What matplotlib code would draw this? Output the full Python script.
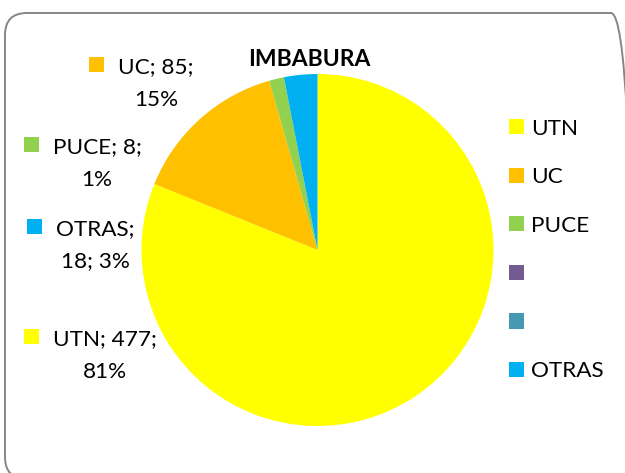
import matplotlib.pyplot as plt
from matplotlib.patches import FancyBboxPatch, Patch, Rectangle
from matplotlib.transforms import IdentityTransform

# pie data (two blank categories with no value still show up in the legend)
categories = ['UTN', 'UC', 'PUCE', '', '', 'OTRAS']
counts = [477, 85, 8, 0, 0, 18]
colors = ['#FFFF00', '#FFC000', '#92D050', '#735A91', '#4599B0', '#00B0F0']

# data labels as printed on the chart: name; value; percent
label_names = ['UTN', 'UC', 'PUCE', 'OTRAS']
label_values = [477, 85, 8, 18]
label_pcts = [81, 15, 1, 3]
label_colors = ['#FFFF00', '#FFC000', '#92D050', '#00B0F0']
first_line_parts = [2, 2, 2, 1]
# label anchors in pixels from top-left: centre x of the text, baseline of first line
label_pos = [(105, 345), (156, 73), (97, 153), (95, 235)]

W, H, DPI = 625, 473, 100
FS = 16.2  # pt
FS_PX = FS * DPI / 72

plt.rcParams['font.family'] = ['Lato', 'DejaVu Sans']

fig = plt.figure(figsize=(W / DPI, H / DPI), dpi=DPI)
fig.patch.set_facecolor('white')


def px(x, y):
    return x / W, 1 - y / H


# rounded chart border, runs off the right and bottom edges
border = FancyBboxPatch((0.05, -0.06), 6.28, 4.66, boxstyle='round,pad=0,rounding_size=0.22',
                        transform=fig.dpi_scale_trans, facecolor='none',
                        edgecolor='#868686', linewidth=1.4)
fig.add_artist(border)

# pie
cx, cy, r = 317.5, 250, 176
ax = fig.add_axes([(cx - r) / W, 1 - (cy + r) / H, 2 * r / W, 2 * r / H])
ax.pie(counts, colors=colors, startangle=90, counterclock=False,
       wedgeprops=dict(linewidth=0))
ax.set_xlim(-1, 1)
ax.set_ylim(-1, 1)
ax.set_aspect('equal')

fig.text(*px(309, 66), 'IMBABURA', ha='center', va='baseline',
         fontsize=16.5, fontweight='bold')

# data labels with the legend key in front of the first line
renderer = fig.canvas.get_renderer()
for name, val, pct, col, k, (x, y) in zip(label_names, label_values, label_pcts,
                                          label_colors, first_line_parts, label_pos):
    parts = [f'{name};', f'{val};', f'{pct}%']
    t1 = fig.text(*px(x, y), ' '.join(parts[:k]), ha='center', va='baseline', fontsize=FS)
    fig.text(*px(x, y + 32.5), ' '.join(parts[k:]), ha='center', va='baseline', fontsize=FS)
    bb = t1.get_window_extent(renderer)
    sq = 15
    fig.add_artist(Rectangle((bb.x0 - 14 - sq, H - y + 9 - sq / 2), sq, sq,
                             transform=IdentityTransform(), facecolor=col, edgecolor='none'))

# legend on the right
handles = [Patch(facecolor=c, edgecolor='none') for c in colors]
fig.legend(handles, categories, loc='upper left', bbox_to_anchor=px(509, 118.5),
           frameon=False, fontsize=FS, handlelength=15 / FS_PX, handleheight=15 / FS_PX,
           handletextpad=7 / FS_PX, labelspacing=1.27, borderpad=0, borderaxespad=0)

fig.savefig('out.png', dpi=DPI)
